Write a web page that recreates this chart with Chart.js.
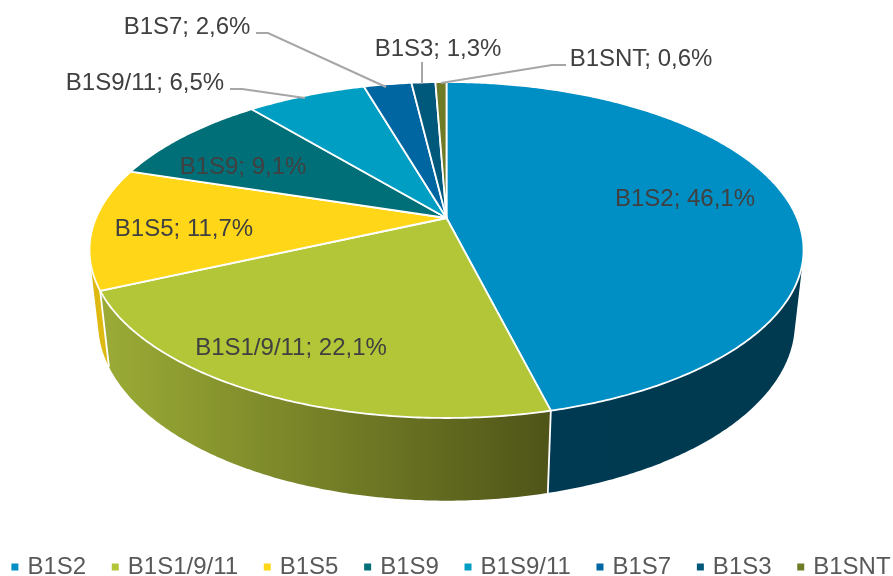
<!DOCTYPE html>
<html>
<head>
<meta charset="utf-8">
<style>html,body{margin:0;padding:0;background:#fff;overflow:hidden}canvas{display:block}</style>
<script src="https://cdn.jsdelivr.net/npm/chart.js@4"></script>
</head>
<body>
<canvas id="c" width="893" height="576"></canvas>
<script>
const categories = ['B1S2','B1S1/9/11','B1S5','B1S9','B1S9/11','B1S7','B1S3','B1SNT'];
const shares = [46.1,22.1,11.7,9.1,6.5,2.6,1.3,0.6];
const topColors = ['#008FC4','#B2C637','#FFD618','#006F78','#009EC2','#0066A2','#00587B','#6F7B25'];
const sideLeft = ['#003A52','#9AAA35','#DDB912','#004A50','#00697F','#00446B','#003A52','#4A5218'];
const sideRight = ['#003A50','#4F5518','#DDB912','#004A50','#00697F','#00446B','#003A52','#4A5218'];

const FONT = '"Liberation Sans", Arial, sans-serif';
const view = {apexY:218, radius:350.5, tilt:-0.1905, spread:161.9, depth:73.7, depthW:0.024};
const legendShift = {x:6, y:13};
const labelPlaces = [
  {x:685,y:199},{x:291,y:348},{x:184,y:229},{x:243,y:167},
  {x:145,y:83,leader:[[230,89],[242,89],[305,98]]},
  {x:187,y:27,leader:[[256,33],[268,33],[386,87]]},
  {x:438,y:49,leader:[[422,62],[422,84]]},
  {x:641,y:59,leader:[[566,65],[552,65],[441,83]]}
];

function project(cx, angle, z){
  const u = Math.cos(angle), v = Math.sin(angle);
  const w = 1 + view.tilt*v + view.depthW*z;
  return [cx + view.radius*u/w, view.apexY + (view.spread*v + view.depth*z)/w];
}
function rim(ctx, cx, a0, a1, z, first){
  const steps = Math.max(2, Math.ceil(Math.abs(a1-a0)/0.01));
  for(let i=0;i<=steps;i++){
    const p = project(cx, a0+(a1-a0)*i/steps, z);
    if(i===0 && first) ctx.moveTo(p[0],p[1]); else ctx.lineTo(p[0],p[1]);
  }
}
function hull(points){
  const pts = points.slice().sort((a,b)=>a[0]-b[0]||a[1]-b[1]);
  const cross=(o,a,b)=>(a[0]-o[0])*(b[1]-o[1])-(a[1]-o[1])*(b[0]-o[0]);
  const lo=[],up=[];
  pts.forEach(p=>{while(lo.length>1&&cross(lo[lo.length-2],lo[lo.length-1],p)<=0)lo.pop();lo.push(p);});
  pts.slice().reverse().forEach(p=>{while(up.length>1&&cross(up[up.length-2],up[up.length-1],p)<=0)up.pop();up.push(p);});
  lo.pop();up.pop();
  return lo.concat(up);
}
const pie3d = {
  id:'pie3d',
  afterLayout(chart){
    const l = chart.legend;
    l.left += legendShift.x; l.right += legendShift.x;
    l.top += legendShift.y; l.bottom += legendShift.y;
  },
  beforeDatasetsDraw(chart){
    const ctx = chart.ctx, arcs = chart.getDatasetMeta(0).data;
    ctx.save();
    ctx.lineJoin = 'round';
    // side walls, far ones first; each is the hull of its two rims, the top faces cover the rest
    const order = arcs.map((a,i)=>i).sort((p,q)=>
      Math.sin((arcs[p].startAngle+arcs[p].endAngle)/2)-Math.sin((arcs[q].startAngle+arcs[q].endAngle)/2));
    order.forEach(i=>{
      const a = arcs[i], pts=[];
      let minX=1e9,maxX=-1e9;
      const n = Math.max(2,Math.ceil((a.endAngle-a.startAngle)/0.01));
      for(let k=0;k<=n;k++){
        const t=a.startAngle+(a.endAngle-a.startAngle)*k/n;
        const p=project(a.x,t,0), q=project(a.x,t,1);
        pts.push(p,q);
        if(Math.sin(t)>=0){minX=Math.min(minX,q[0]);maxX=Math.max(maxX,q[0]);}
      }
      const g = ctx.createLinearGradient(minX<maxX?minX:0,0,minX<maxX?maxX:1,0);
      g.addColorStop(0,sideLeft[i]); g.addColorStop(1,sideRight[i]);
      ctx.fillStyle = g;
      ctx.beginPath();
      hull(pts).forEach((p,k)=>k?ctx.lineTo(p[0],p[1]):ctx.moveTo(p[0],p[1]));
      ctx.closePath();ctx.fill();
    });
    // white edges between the walls
    ctx.strokeStyle='#fff'; ctx.lineWidth=1.8;
    arcs.forEach(a=>{
      const p=project(a.x,a.startAngle,0),q=project(a.x,a.startAngle,1);
      ctx.beginPath();ctx.moveTo(p[0],p[1]);ctx.lineTo(q[0],q[1]);ctx.stroke();
    });
    // top faces
    arcs.forEach((a,i)=>{
      ctx.beginPath();
      ctx.moveTo(a.x,view.apexY);
      rim(ctx,a.x,a.startAngle,a.endAngle,0,false);
      ctx.closePath();
      ctx.fillStyle=topColors[i]; ctx.fill();
      ctx.strokeStyle='#fff'; ctx.lineWidth=1.8; ctx.stroke();
    });
    // leader lines and labels
    ctx.strokeStyle='#A6A6A6'; ctx.lineWidth=2; ctx.lineJoin='miter';
    labelPlaces.forEach(l=>{
      if(!l.leader) return;
      ctx.beginPath();
      l.leader.forEach((p,k)=>k?ctx.lineTo(p[0],p[1]):ctx.moveTo(p[0],p[1]));
      ctx.stroke();
    });
    ctx.fillStyle='#404040'; ctx.font='24px '+FONT;
    ctx.textAlign='center'; ctx.textBaseline='middle';
    categories.forEach((name,i)=>{
      ctx.fillText(name+'; '+shares[i].toFixed(1).replace('.',',')+'%',labelPlaces[i].x,labelPlaces[i].y);
    });
    ctx.restore();
    return false;
  }
};
new Chart(document.getElementById('c'),{
  type:'pie',
  plugins:[pie3d],
  data:{labels:categories,datasets:[{data:shares,backgroundColor:topColors,borderWidth:0}]},
  options:{
    responsive:false,animation:false,
    layout:{padding:0},
    plugins:{
      tooltip:{enabled:false},
      legend:{
        position:'bottom',
        labels:{
          usePointStyle:true,boxWidth:1,boxHeight:7,padding:2,
          color:'#595959',font:{family:FONT,size:24},
          generateLabels(){
            return categories.map((t,i)=>({
              text:i<categories.length-1?t+'    ':t,
              fillStyle:topColors[i],strokeStyle:topColors[i],lineWidth:0,
              fontColor:'#595959',pointStyle:'rect',index:i,hidden:false
            }));
          }
        }
      }
    }
  }
});
</script>
</body>
</html>
